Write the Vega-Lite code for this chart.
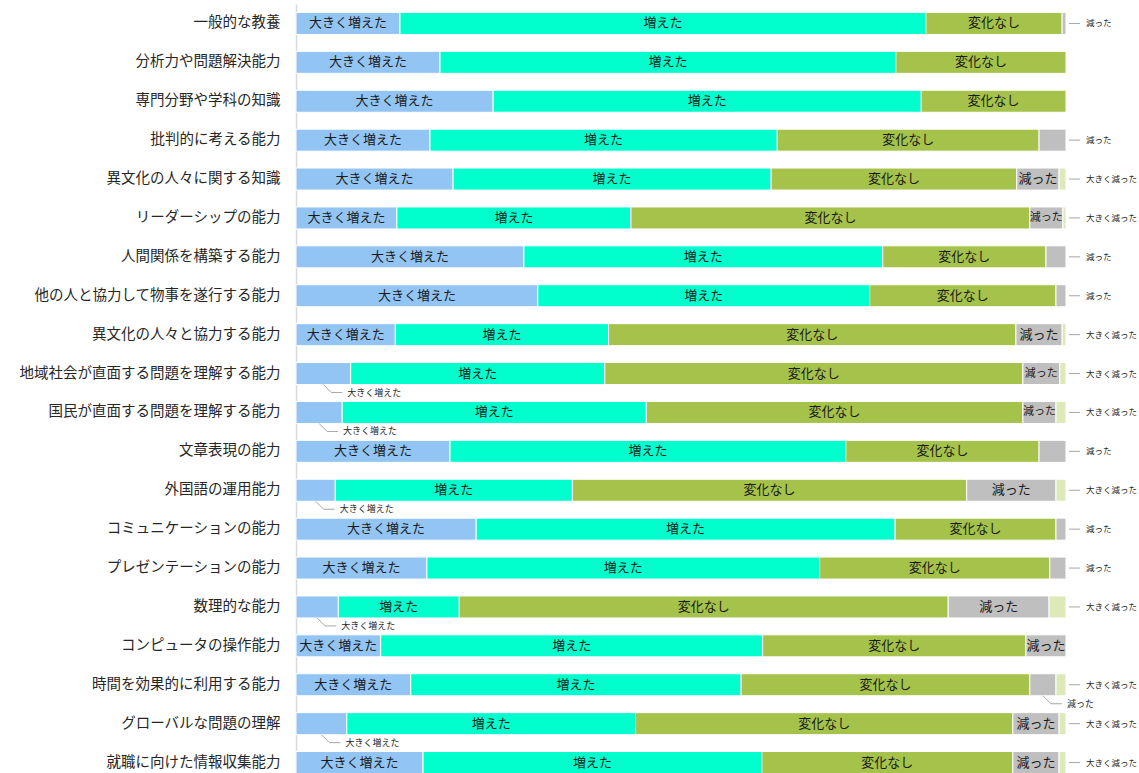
{
  "$schema": "https://vega.github.io/schema/vega-lite/v6.json",
  "width": 770,
  "height": 778,
  "autosize": {"type": "none"},
  "padding": {"left": 296, "top": 4, "right": 73, "bottom": 0},
  "background": "white",
  "config": {"view": {"stroke": null}, "font": "Noto Sans CJK JP"},
  "data": {"values": [
    {"q": "一般的な教養", "cat": "大きく増えた", "v": 13.5},
    {"q": "一般的な教養", "cat": "増えた", "v": 68.3},
    {"q": "一般的な教養", "cat": "変化なし", "v": 17.7},
    {"q": "一般的な教養", "cat": "減った", "v": 0.5},
    {"q": "分析力や問題解決能力", "cat": "大きく増えた", "v": 18.7},
    {"q": "分析力や問題解決能力", "cat": "増えた", "v": 59.2},
    {"q": "分析力や問題解決能力", "cat": "変化なし", "v": 22.1},
    {"q": "専門分野や学科の知識", "cat": "大きく増えた", "v": 25.6},
    {"q": "専門分野や学科の知識", "cat": "増えた", "v": 55.6},
    {"q": "専門分野や学科の知識", "cat": "変化なし", "v": 18.8},
    {"q": "批判的に考える能力", "cat": "大きく増えた", "v": 17.4},
    {"q": "批判的に考える能力", "cat": "増えた", "v": 45.1},
    {"q": "批判的に考える能力", "cat": "変化なし", "v": 34.0},
    {"q": "批判的に考える能力", "cat": "減った", "v": 3.5},
    {"q": "異文化の人々に関する知識", "cat": "大きく増えた", "v": 20.4},
    {"q": "異文化の人々に関する知識", "cat": "増えた", "v": 41.3},
    {"q": "異文化の人々に関する知識", "cat": "変化なし", "v": 31.9},
    {"q": "異文化の人々に関する知識", "cat": "減った", "v": 5.5},
    {"q": "異文化の人々に関する知識", "cat": "大きく減った", "v": 0.9},
    {"q": "リーダーシップの能力", "cat": "大きく増えた", "v": 13.1},
    {"q": "リーダーシップの能力", "cat": "増えた", "v": 30.4},
    {"q": "リーダーシップの能力", "cat": "変化なし", "v": 51.8},
    {"q": "リーダーシップの能力", "cat": "減った", "v": 4.3},
    {"q": "リーダーシップの能力", "cat": "大きく減った", "v": 0.4},
    {"q": "人間関係を構築する能力", "cat": "大きく増えた", "v": 29.6},
    {"q": "人間関係を構築する能力", "cat": "増えた", "v": 46.6},
    {"q": "人間関係を構築する能力", "cat": "変化なし", "v": 21.2},
    {"q": "人間関係を構築する能力", "cat": "減った", "v": 2.6},
    {"q": "他の人と協力して物事を遂行する能力", "cat": "大きく増えた", "v": 31.4},
    {"q": "他の人と協力して物事を遂行する能力", "cat": "増えた", "v": 43.1},
    {"q": "他の人と協力して物事を遂行する能力", "cat": "変化なし", "v": 24.2},
    {"q": "他の人と協力して物事を遂行する能力", "cat": "減った", "v": 1.3},
    {"q": "異文化の人々と協力する能力", "cat": "大きく増えた", "v": 12.9},
    {"q": "異文化の人々と協力する能力", "cat": "増えた", "v": 27.7},
    {"q": "異文化の人々と協力する能力", "cat": "変化なし", "v": 52.9},
    {"q": "異文化の人々と協力する能力", "cat": "減った", "v": 6.0},
    {"q": "異文化の人々と協力する能力", "cat": "大きく減った", "v": 0.5},
    {"q": "地域社会が直面する問題を理解する能力", "cat": "大きく増えた", "v": 7.1},
    {"q": "地域社会が直面する問題を理解する能力", "cat": "増えた", "v": 33.0},
    {"q": "地域社会が直面する問題を理解する能力", "cat": "変化なし", "v": 54.3},
    {"q": "地域社会が直面する問題を理解する能力", "cat": "減った", "v": 4.8},
    {"q": "地域社会が直面する問題を理解する能力", "cat": "大きく減った", "v": 0.8},
    {"q": "国民が直面する問題を理解する能力", "cat": "大きく増えた", "v": 6.0},
    {"q": "国民が直面する問題を理解する能力", "cat": "増えた", "v": 39.5},
    {"q": "国民が直面する問題を理解する能力", "cat": "変化なし", "v": 48.9},
    {"q": "国民が直面する問題を理解する能力", "cat": "減った", "v": 4.3},
    {"q": "国民が直面する問題を理解する能力", "cat": "大きく減った", "v": 1.3},
    {"q": "文章表現の能力", "cat": "大きく増えた", "v": 20.0},
    {"q": "文章表現の能力", "cat": "増えた", "v": 51.4},
    {"q": "文章表現の能力", "cat": "変化なし", "v": 25.1},
    {"q": "文章表現の能力", "cat": "減った", "v": 3.5},
    {"q": "外国語の運用能力", "cat": "大きく増えた", "v": 5.1},
    {"q": "外国語の運用能力", "cat": "増えた", "v": 30.8},
    {"q": "外国語の運用能力", "cat": "変化なし", "v": 51.2},
    {"q": "外国語の運用能力", "cat": "減った", "v": 11.6},
    {"q": "外国語の運用能力", "cat": "大きく減った", "v": 1.3},
    {"q": "コミュニケーションの能力", "cat": "大きく増えた", "v": 23.4},
    {"q": "コミュニケーションの能力", "cat": "増えた", "v": 54.4},
    {"q": "コミュニケーションの能力", "cat": "変化なし", "v": 20.9},
    {"q": "コミュニケーションの能力", "cat": "減った", "v": 1.3},
    {"q": "プレゼンテーションの能力", "cat": "大きく増えた", "v": 17.0},
    {"q": "プレゼンテーションの能力", "cat": "増えた", "v": 51.0},
    {"q": "プレゼンテーションの能力", "cat": "変化なし", "v": 29.9},
    {"q": "プレゼンテーションの能力", "cat": "減った", "v": 2.1},
    {"q": "数理的な能力", "cat": "大きく増えた", "v": 5.5},
    {"q": "数理的な能力", "cat": "増えた", "v": 15.7},
    {"q": "数理的な能力", "cat": "変化なし", "v": 63.5},
    {"q": "数理的な能力", "cat": "減った", "v": 13.1},
    {"q": "数理的な能力", "cat": "大きく減った", "v": 2.2},
    {"q": "コンピュータの操作能力", "cat": "大きく増えた", "v": 11.0},
    {"q": "コンピュータの操作能力", "cat": "増えた", "v": 49.6},
    {"q": "コンピュータの操作能力", "cat": "変化なし", "v": 34.2},
    {"q": "コンピュータの操作能力", "cat": "減った", "v": 5.2},
    {"q": "時間を効果的に利用する能力", "cat": "大きく増えた", "v": 14.9},
    {"q": "時間を効果的に利用する能力", "cat": "増えた", "v": 42.9},
    {"q": "時間を効果的に利用する能力", "cat": "変化なし", "v": 37.5},
    {"q": "時間を効果的に利用する能力", "cat": "減った", "v": 3.4},
    {"q": "時間を効果的に利用する能力", "cat": "大きく減った", "v": 1.3},
    {"q": "グローバルな問題の理解", "cat": "大きく増えた", "v": 6.6},
    {"q": "グローバルな問題の理解", "cat": "増えた", "v": 37.5},
    {"q": "グローバルな問題の理解", "cat": "変化なし", "v": 49.0},
    {"q": "グローバルな問題の理解", "cat": "減った", "v": 6.0},
    {"q": "グローバルな問題の理解", "cat": "大きく減った", "v": 0.9},
    {"q": "就職に向けた情報収集能力", "cat": "大きく増えた", "v": 16.5},
    {"q": "就職に向けた情報収集能力", "cat": "増えた", "v": 44.0},
    {"q": "就職に向けた情報収集能力", "cat": "変化なし", "v": 32.6},
    {"q": "就職に向けた情報収集能力", "cat": "減った", "v": 6.0},
    {"q": "就職に向けた情報収集能力", "cat": "大きく減った", "v": 0.9}
  ]},
  "transform": [
    {"calculate": "indexof(['大きく増えた','増えた','変化なし','減った','大きく減った'], datum.cat)", "as": "k"},
    {"stack": "v", "groupby": ["q"], "sort": [{"field": "k", "order": "ascending"}], "as": ["x0", "x1"]},
    {"calculate": "(datum.x0 + datum.x1) / 2", "as": "mid"},
    {"joinaggregate": [{"op": "count", "as": "n"}], "groupby": ["q"]}
  ],
  "encoding": {
    "y": {
      "field": "q", "type": "nominal", "sort": null,
      "scale": {"paddingInner": 0.434, "paddingOuter": 0.217},
      "axis": {"title": null, "ticks": false, "labelFontSize": 14.5, "labelColor": "#262626", "labelPadding": 16, "domainColor": "#d9d9d9", "domainWidth": 1.5, "labelFont": "Noto Sans CJK JP", "labelLimit": 400}
    }
  },
  "layer": [
    {
      "mark": {"type": "bar", "stroke": "white", "strokeWidth": 1},
      "encoding": {
        "x": {"field": "x0", "type": "quantitative", "scale": {"domain": [0, 100]}, "axis": null},
        "x2": {"field": "x1"},
        "color": {"field": "cat", "type": "nominal", "legend": null,
          "scale": {"domain": ["大きく増えた","増えた","変化なし","減った","大きく減った"], "range": ["#92c4f4","#00ffcc","#a5c24a","#bfbfbf","#dde9b9"]}}
      }
    },
    {
      "transform": [{"filter": "datum.k == 1 || datum.k == 2 || (datum.k == 0 && datum.v >= 9) || (datum.k == 3 && datum.v >= 4)"}],
      "mark": {"type": "text", "fontSize": 13, "color": "#1a1a1a", "font": "Noto Sans CJK JP"},
      "encoding": {
        "x": {"field": "mid", "type": "quantitative", "scale": {"domain": [0, 100]}, "axis": null},
        "text": {"field": "cat"},
        "size": {"condition": {"test": "datum.k == 3 && datum.v < 5", "value": 11}, "value": 13}
      }
    },
    {
      "transform": [{"filter": "datum.k == 4 || (datum.k == 3 && datum.v < 4 && datum.n == 4)"}],
      "mark": {"type": "rule", "color": "#a6a6a6", "strokeWidth": 1, "xOffset": 3, "x2Offset": 14},
      "encoding": {
        "x": {"field": "x1", "type": "quantitative", "scale": {"domain": [0, 100]}, "axis": null},
        "x2": {"field": "x1"}
      }
    },
    {
      "transform": [{"filter": "datum.k == 4 || (datum.k == 3 && datum.v < 4 && datum.n == 4)"}],
      "mark": {"type": "text", "align": "left", "dx": 20, "fontSize": 8.5, "color": "#262626", "font": "Noto Sans CJK JP"},
      "encoding": {
        "x": {"field": "x1", "type": "quantitative", "scale": {"domain": [0, 100]}, "axis": null},
        "text": {"field": "cat"}
      }
    },
    {
      "transform": [{"filter": "(datum.k == 0 && datum.v < 9) || (datum.k == 3 && datum.v < 4 && datum.n == 5)"}],
      "mark": {"type": "rule", "color": "#a6a6a6", "strokeWidth": 1, "yOffset": 11, "y2Offset": 19, "x2Offset": 8},
      "encoding": {
        "x": {"field": "mid", "type": "quantitative", "scale": {"domain": [0, 100]}, "axis": null},
        "x2": {"field": "mid"},
        "y2": {"field": "q"}
      }
    },
    {
      "transform": [{"filter": "(datum.k == 0 && datum.v < 9) || (datum.k == 3 && datum.v < 4 && datum.n == 5)"}],
      "mark": {"type": "rule", "color": "#a6a6a6", "strokeWidth": 1, "yOffset": 19, "xOffset": 8, "x2Offset": 19},
      "encoding": {
        "x": {"field": "mid", "type": "quantitative", "scale": {"domain": [0, 100]}, "axis": null},
        "x2": {"field": "mid"}
      }
    },
    {
      "transform": [{"filter": "(datum.k == 0 && datum.v < 9) || (datum.k == 3 && datum.v < 4 && datum.n == 5)"}],
      "mark": {"type": "text", "align": "left", "dx": 24, "dy": 19, "fontSize": 9, "color": "#262626", "font": "Noto Sans CJK JP"},
      "encoding": {
        "x": {"field": "mid", "type": "quantitative", "scale": {"domain": [0, 100]}, "axis": null},
        "text": {"field": "cat"}
      }
    }
  ]
}
